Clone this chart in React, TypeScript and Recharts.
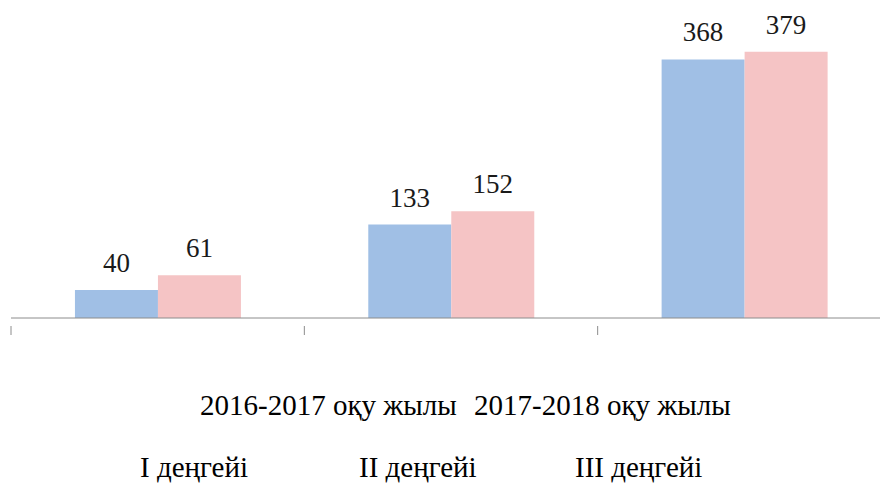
import React from "react";
import { BarChart, Bar, XAxis, YAxis, LabelList } from "recharts";

const categories = ["I деңгейі", "II деңгейі", "III деңгейі"];
const seriesNames = ["2016-2017 оқу жылы", "2017-2018 оқу жылы"];
const values2016 = [40, 133, 368];
const values2017 = [61, 152, 379];

const data = categories.map((c, i) => ({ name: c, a: values2016[i], b: values2017[i] }));

const CHART_W = 900;
const CHART_H = 485;
const MARGIN = { top: 37, right: 9, bottom: 157, left: 11 };
const HALF_BAND = (CHART_W - MARGIN.left - MARGIN.right) / categories.length / 2;

const FONT = "Liberation Serif, DejaVu Serif, serif";

const Tick = (props: any) => {
  const { x, y } = props;
  return <line x1={x - HALF_BAND} x2={x - HALF_BAND} y1={y} y2={y + 9} stroke="#8c8c8c" strokeWidth={1} />;
};

const SERIES_X = [200, 474];
const CAT_X = [140, 359, 575];

export default function App() {
  return (
    <div style={{ position: "absolute", left: 0, top: 0, width: 880, height: 485, overflow: "hidden", background: "#fff" }}>
      <BarChart width={CHART_W} height={CHART_H} data={data} margin={MARGIN} barCategoryGap="21.8%" barGap={0}>
        <XAxis
          dataKey="name"
          height={10}
          axisLine={{ stroke: "#8c8c8c", strokeWidth: 1 }}
          tickLine={false}
          tick={<Tick />}
          interval={0}
        />
        <YAxis hide domain={[0, 400]} />
        <Bar dataKey="a" name={seriesNames[0]} fill="#A0BFE5" isAnimationActive={false}>
          <LabelList dataKey="a" position="top" offset={18} style={{ fontFamily: FONT, fontSize: 27, fill: "#1a1a1a" }} />
        </Bar>
        <Bar dataKey="b" name={seriesNames[1]} fill="#F5C4C5" isAnimationActive={false}>
          <LabelList dataKey="b" position="top" offset={18} style={{ fontFamily: FONT, fontSize: 27, fill: "#1a1a1a" }} />
        </Bar>
      </BarChart>
      <svg width={880} height={485} style={{ position: "absolute", left: 0, top: 0, pointerEvents: "none", fontFamily: FONT }}>
        {seriesNames.map((s, i) => (
          <text key={s} x={SERIES_X[i]} y={415} style={{ fontFamily: FONT, fontSize: 29 }} fill="#000">
            {s}
          </text>
        ))}
        {categories.map((c, i) => (
          <text key={c} x={CAT_X[i]} y={477} style={{ fontFamily: FONT, fontSize: 29 }} fill="#000">
            {c}
          </text>
        ))}
      </svg>
    </div>
  );
}
